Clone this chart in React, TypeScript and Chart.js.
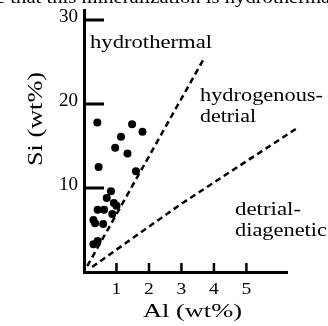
import React, { useEffect, useRef } from "react";
import { Chart, registerables } from "chart.js";

Chart.register(...registerables);

// Sample data: Al (wt%) vs Si (wt%)
const alValues = [0.41, 0.45, 1.48, 1.8, 1.14, 0.96, 1.34, 1.6, 0.83, 0.7, 0.42, 0.62, 0.92, 1.0, 0.87, 0.29, 0.34, 0.59, 0.42, 0.29];
const siValues = [17.8, 12.5, 17.6, 16.7, 16.1, 14.8, 14.1, 12.0, 9.6, 8.8, 7.4, 7.4, 8.2, 7.9, 6.9, 6.2, 5.8, 5.7, 3.7, 3.3];

// Field boundary lines
const upperLineAl = [0.1, 3.72];
const upperLineSi = [0.7, 25.6];
const lowerLineAl = [0.25, 2.95, 6.55];
const lowerLineSi = [0.6, 8.0, 17.1];

// Tick labels
const xTickValues = [1, 2, 3, 4, 5];
const yTickValues = [10, 20, 30];

// Labels
const fieldLabels = ["hydrothermal", "hydrogenous-", "detrial", "detrial-", "diagenetic"];
const xTitle = "Al (wt%)";
const yTitle = "Si (wt%)";
const topFragment = "e that this mineralization is hydrothermal";

const FONT = "'Liberation Serif', 'Times New Roman', serif";

function drawStretched(ctx: CanvasRenderingContext2D, text: string, x: number, y: number, size: number, targetWidth: number) {
  ctx.save();
  ctx.font = `${size}px ${FONT}`;
  const w = ctx.measureText(text).width;
  const sx = targetWidth / w;
  ctx.translate(x, y);
  ctx.scale(sx, 1);
  ctx.fillStyle = "#000";
  ctx.textBaseline = "alphabetic";
  ctx.textAlign = "left";
  ctx.fillText(text, 0, 0);
  ctx.restore();
}

const decorPlugin = {
  id: "decor",
  afterDatasetsDraw(chart: any) {
    const ctx = chart.ctx as CanvasRenderingContext2D;
    const xs = chart.scales.x;
    const ys = chart.scales.y;
    const area = chart.chartArea;
    ctx.save();
    ctx.strokeStyle = "#000";
    ctx.fillStyle = "#000";
    ctx.lineCap = "butt";
    // inward ticks on y axis + labels
    ctx.lineWidth = 3;
    ctx.font = `19px ${FONT}`;
    ctx.textAlign = "right";
    ctx.textBaseline = "middle";
    ys.ticks.forEach((t: any) => {
      const py = ys.getPixelForValue(t.value);
      ctx.beginPath();
      ctx.moveTo(area.left, py);
      ctx.lineTo(area.left + 20, py);
      ctx.stroke();
      ctx.fillText(String(t.value), 78, py - 3);
    });
    // inward ticks on x axis + labels
    ctx.lineWidth = 2.5;
    ctx.font = `17px ${FONT}`;
    ctx.textAlign = "center";
    ctx.textBaseline = "alphabetic";
    xs.ticks.forEach((t: any) => {
      const px = xs.getPixelForValue(t.value);
      ctx.beginPath();
      ctx.moveTo(px, area.bottom);
      ctx.lineTo(px, area.bottom - 9);
      ctx.stroke();
      ctx.save();
      ctx.translate(px, 294);
      ctx.scale(1.15, 1);
      ctx.fillText(String(t.value), 0, 0);
      ctx.restore();
    });
    ctx.restore();
  },
  afterDraw(chart: any) {
    const ctx = chart.ctx as CanvasRenderingContext2D;
    drawStretched(ctx, fieldLabels[0], 90, 48, 19, 122);
    drawStretched(ctx, fieldLabels[1], 200, 101, 19, 123);
    drawStretched(ctx, fieldLabels[2], 200, 122, 19, 56);
    drawStretched(ctx, fieldLabels[3], 235, 215, 19, 66);
    drawStretched(ctx, fieldLabels[4], 235, 236, 19, 92);
    drawStretched(ctx, xTitle, 143, 317, 19, 99);
    drawStretched(ctx, topFragment, -4, 3, 19, 340);
    ctx.save();
    ctx.translate(42, 166);
    ctx.rotate(-Math.PI / 2);
    drawStretched(ctx, yTitle, 0, 0, 20, 94);
    ctx.restore();
  },
};

export default function App() {
  const ref = useRef<HTMLCanvasElement | null>(null);
  useEffect(() => {
    if (!ref.current) return;
    const points = alValues.map((a, i) => ({ x: a, y: siValues[i] }));
    const upper = upperLineAl.map((a, i) => ({ x: a, y: upperLineSi[i] }));
    const lower = lowerLineAl.map((a, i) => ({ x: a, y: lowerLineSi[i] }));
    const chart = new Chart(ref.current, {
      type: "scatter",
      data: {
        datasets: [
          {
            data: points,
            pointRadius: 4,
            pointBackgroundColor: "#000",
            pointBorderColor: "#000",
            pointBorderWidth: 0,
            showLine: false,
          },
          {
            data: upper,
            showLine: true,
            pointRadius: 0,
            borderColor: "#000",
            borderWidth: 2.5,
            borderDash: [6, 4],
            clip: false,
          } as any,
          {
            data: lower,
            showLine: true,
            pointRadius: 0,
            borderColor: "#000",
            borderWidth: 2.5,
            borderDash: [6, 4],
            clip: false,
          } as any,
        ],
      },
      options: {
        responsive: false,
        animation: false,
        events: [],
        layout: { padding: { left: 0, top: 10, right: 41, bottom: 0 } },
        plugins: { legend: { display: false }, tooltip: { enabled: false } },
        scales: {
          x: {
            type: "linear",
            min: 0,
            max: 6.25,
            grid: { display: false },
            border: { display: true, width: 3, color: "#000" },
            afterBuildTicks: (s: any) => {
              s.ticks = xTickValues.map((v) => ({ value: v }));
            },
            afterFit: (s: any) => {
              s.height = 54;
            },
            ticks: { display: false },
          },
          y: {
            type: "linear",
            min: 0,
            max: 31.19,
            grid: { display: false },
            border: { display: true, width: 3, color: "#000" },
            afterBuildTicks: (s: any) => {
              s.ticks = yTickValues.map((v) => ({ value: v }));
            },
            afterFit: (s: any) => {
              s.width = 84;
            },
            ticks: { display: false },
          },
        },
      },
      plugins: [decorPlugin],
    });
    return () => chart.destroy();
  }, []);
  return (
    <div style={{ position: "fixed", left: 0, top: 0, width: 328, height: 326, background: "#fff" }}>
      <canvas ref={ref} width={328} height={326} style={{ width: 328, height: 326, display: "block" }} />
    </div>
  );
}
